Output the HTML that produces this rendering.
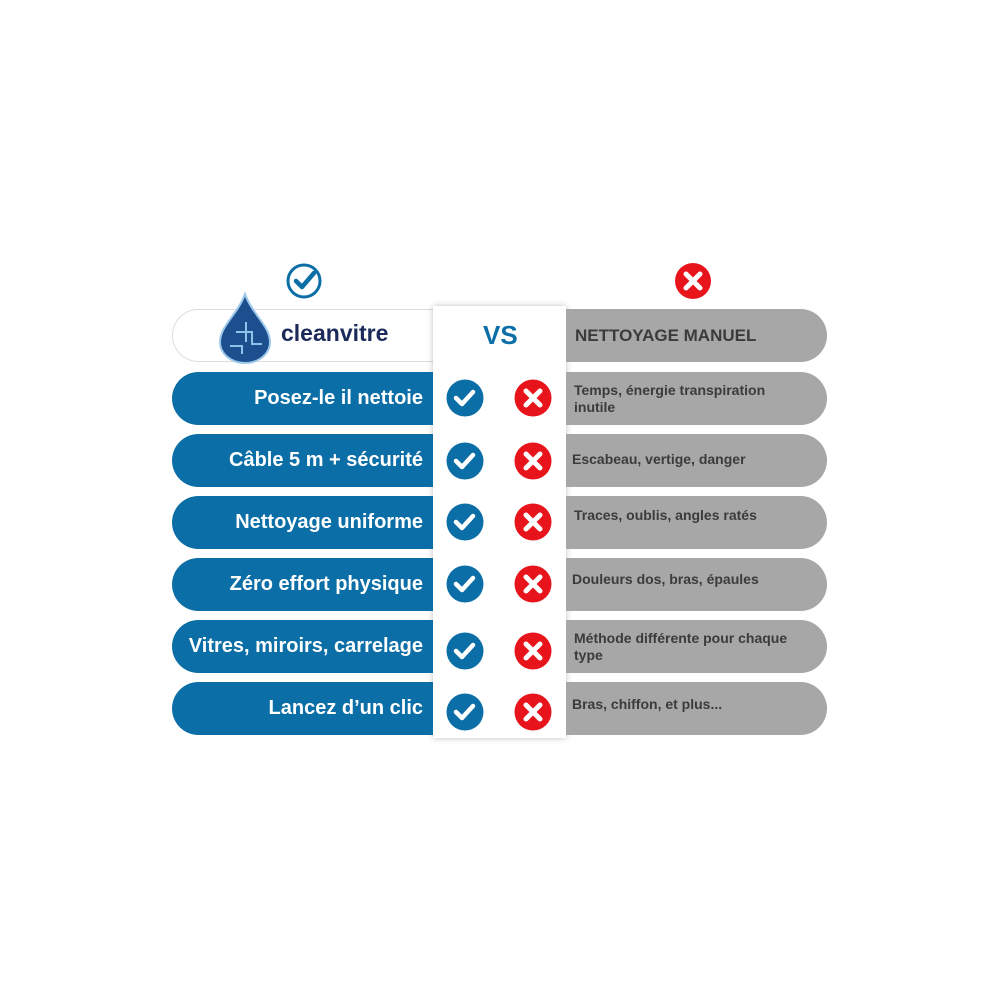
<!DOCTYPE html>
<html><head><meta charset="utf-8"><style>
body{margin:0;width:1000px;height:1000px;background:#fff;position:relative;font-family:"Liberation Sans",sans-serif;overflow:hidden}
.l{position:absolute;left:172px;width:261px;height:53px;background:#0b6ea6;border-radius:27px 0 0 27px;color:#fff;font-weight:bold;font-size:20px;display:flex;align-items:center;justify-content:flex-end;padding-right:10px;box-sizing:border-box}
.r{position:absolute;left:566px;width:261px;height:53px;background:#a7a7a7;border-radius:0 27px 27px 0;color:#3b3b3b;font-weight:bold;font-size:14px;display:flex;align-items:center;padding-left:8px;box-sizing:border-box;line-height:17px}
.mid{position:absolute;left:433px;top:306px;width:133px;height:432px;background:#fff;box-shadow:0 0 6px rgba(0,0,0,.25)}
.ic{position:absolute;width:38px;height:38px}
</style></head><body>
<svg class="ic" style="left:285px;top:262px" viewBox="0 0 38 38"><circle cx="19" cy="19" r="16" fill="none" stroke="#0b6ea6" stroke-width="3"/><path d="M11 19l6 6 12-14" fill="none" stroke="#0b6ea6" stroke-width="4.5" stroke-linecap="round" stroke-linejoin="round"/></svg>
<svg class="ic" style="left:674px;top:262px" viewBox="0 0 38 38"><circle cx="19" cy="19" r="18" fill="#e8141c"/><path d="M12 12l14 14M26 12l-14 14" stroke="#fff" stroke-width="5" stroke-linecap="round"/></svg>
<div style="position:absolute;left:172px;top:309px;width:270px;height:53px;border:1px solid #ddd;border-radius:27px 0 0 27px;box-sizing:border-box;background:#fff"></div>
<svg style="position:absolute;left:216px;top:292px" width="58" height="72" viewBox="0 0 58 72"><path d="M29 2C22 22 4 34 4 50a25 21 0 0 0 50 0C54 34 36 22 29 2z" fill="#1d4f8f" stroke="#9cc8ea" stroke-width="2"/><path d="M20 40h16v12h10M14 54h12v8M30 30v20" stroke="#8fc2ea" stroke-width="2" fill="none"/></svg>
<div style="position:absolute;left:281px;top:320px;font-size:23px;font-weight:bold;color:#1b2a5a">cleanvitre</div>
<div class="mid"></div>
<div style="position:absolute;left:483px;top:320px;font-size:26px;font-weight:bold;color:#0b6ea6">VS</div>
<div class="r" style="top:309px;font-size:17px;padding-left:9px">NETTOYAGE MANUEL</div>

<div class="l" style="top:372px">Posez-le il nettoie</div>
<div class="l" style="top:434px">Câble 5 m + sécurité</div>
<div class="l" style="top:496px">Nettoyage uniforme</div>
<div class="l" style="top:558px">Zéro effort physique</div>
<div class="l" style="top:620px">Vitres, miroirs, carrelage</div>
<div class="l" style="top:682px">Lancez d’un clic</div>

<div class="r" style="top:372px">Temps, énergie transpiration<br>inutile</div>
<div class="r" style="top:434px;align-items:flex-start;padding-top:17px;padding-left:6px">Escabeau, vertige, danger</div>
<div class="r" style="top:496px;align-items:flex-start;padding-top:11px">Traces, oublis, angles ratés</div>
<div class="r" style="top:558px;align-items:flex-start;padding-top:13px;padding-left:6px">Douleurs dos, bras, épaules</div>
<div class="r" style="top:620px">Méthode différente pour chaque<br>type</div>
<div class="r" style="top:682px;align-items:flex-start;padding-top:14px;padding-left:6px">Bras, chiffon, et plus...</div>

<div id="icons"></div>
<svg style="position:absolute;left:0;top:0" width="1000" height="1000">
<defs>
<g id="c"><circle r="18.5" fill="#0b6ea6"/><path d="M-9 0l6 6 11-12" fill="none" stroke="#fff" stroke-width="4.5" stroke-linecap="round" stroke-linejoin="round"/></g>
<g id="x"><circle r="18.5" fill="#e8141c"/><path d="M-7-7l14 14M7-7l-14 14" stroke="#fff" stroke-width="5" stroke-linecap="round"/></g>
</defs>
<use href="#c" x="465" y="398"/><use href="#x" x="533" y="398"/>
<use href="#c" x="465" y="461"/><use href="#x" x="533" y="461"/>
<use href="#c" x="465" y="522"/><use href="#x" x="533" y="522"/>
<use href="#c" x="465" y="584"/><use href="#x" x="533" y="584"/>
<use href="#c" x="465" y="651"/><use href="#x" x="533" y="651"/>
<use href="#c" x="465" y="712"/><use href="#x" x="533" y="712"/>
</svg>
</body></html>
